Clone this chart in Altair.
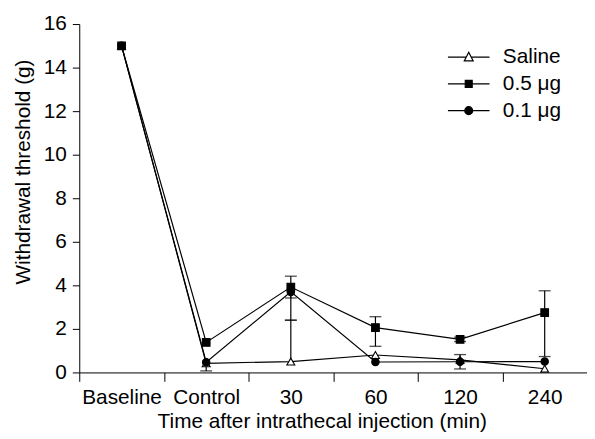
import altair as alt
import pandas as pd

categories = ["Baseline", "Control", "30", "60", "120", "240"]
series = ["Saline", "0.5 μg", "0.1 μg"]

saline = [15.0, 0.42, 0.5, 0.8, 0.58, 0.17]
dose_05 = [15.0, 1.38, 3.92, 2.06, 1.52, 2.75]
dose_01 = [15.0, 0.47, 3.7, 0.48, 0.49, 0.5]

saline_err_up = [0, 0, 1.9, 0, 0, 0]
saline_err_down = [0, 0, 0, 0, 0, 0]
dose_05_err_up = [0, 0, 0.5, 0.5, 0.1, 1.0]
dose_05_err_down = [0, 0, 0.5, 0.86, 0.1, 2.02]
dose_01_err_up = [0, 0, 0, 0, 0.33, 0]
dose_01_err_down = [0, 0.4, 1.3, 0, 0.33, 0]

FONT = "Liberation Sans"
FS = 21

# draw order: saline, 0.1, 0.5 (0.5 on top)
groups = [
    ("Saline", saline, saline_err_up, saline_err_down),
    ("0.1 μg", dose_01, dose_01_err_up, dose_01_err_down),
    ("0.5 μg", dose_05, dose_05_err_up, dose_05_err_down),
]

rows, err_rows, cap_rows = [], [], []
for name, vals, up, down in groups:
    for c, v, u, d in zip(categories, vals, up, down):
        rows.append({"time": c, "value": v, "series": name})
        if u > 0 or d > 0:
            err_rows.append({"time": c, "lo": v - d, "hi": v + u, "series": name})
        if u > 0:
            cap_rows.append({"time": c, "value": v + u, "series": name})
        if d > 0:
            cap_rows.append({"time": c, "value": v - d, "series": name})

df = pd.DataFrame(rows)
err_df = pd.DataFrame(err_rows)
cap_df = pd.DataFrame(cap_rows)

x_scale = alt.Scale(type="band", domain=categories, paddingInner=0, paddingOuter=0)
x_axis = alt.Axis(
    title="Time after intrathecal injection (min)",
    tickBand="extent", labelAngle=0, tickSize=9, labelPadding=5,
    titleX=245, titleY=39, titleAlign="center", titleBaseline="top",
)
y_scale = alt.Scale(domain=[0, 16], nice=False)
y_axis = alt.Axis(
    title="Withdrawal threshold (g)", values=list(range(0, 17, 2)),
    tickSize=7, labelPadding=6, grid=False,
    titleX=-46, titleY=149, titleAngle=-90, titleAlign="center", titleBaseline="bottom",
)

X = alt.X("time:N", scale=x_scale, axis=x_axis)
Y = alt.Y("value:Q", scale=y_scale, axis=y_axis)

lines = alt.Chart(df).mark_line(color="black", strokeWidth=1.2).encode(
    x=X, y=Y, detail="series:N"
)
rules = alt.Chart(err_df).mark_rule(color="black", strokeWidth=1.2).encode(
    x=alt.X("time:N", scale=x_scale, axis=x_axis),
    y=alt.Y("lo:Q", scale=y_scale, axis=y_axis),
    y2="hi:Q",
)
caps = alt.Chart(cap_df).mark_tick(color="black", thickness=1.3, size=12).encode(
    x=X, y=Y
)
points = alt.Chart(df).mark_point(filled=True, stroke="black", strokeWidth=1.1, opacity=1).encode(
    x=X, y=Y,
    shape=alt.Shape("series:N", scale=alt.Scale(domain=series, range=["triangle-up", "square", "circle"]), legend=None),
    fill=alt.Fill("series:N", scale=alt.Scale(domain=series, range=["white", "black", "black"]), legend=None),
    size=alt.Size("series:N", scale=alt.Scale(domain=series, range=[64, 56, 70]), legend=None),
)

legend_paths = [
    "M-4.2,0L-0.52,0M0.52,0L4.2,0M0,-1.0L0.9,0.75L-0.9,0.75Z",
    "M-4.2,0L4.2,0M-0.7,-0.7L0.7,-0.7L0.7,0.7L-0.7,0.7Z",
    "M-4.2,0L4.2,0M0.8,0A0.8,0.8 0 1,1 -0.8,0A0.8,0.8 0 1,1 0.8,0Z",
]
leg = alt.Legend(
    title=None, orient="none", legendX=383, legendY=23, padding=0,
    labelFontSize=FS, labelFont=FONT, labelColor="black", labelOffset=24,
    symbolSize=100, rowPadding=5, symbolStrokeColor="black", symbolStrokeWidth=1.2,
)
legend_layer = alt.Chart(df).transform_filter("false").mark_point(
    filled=True, strokeWidth=1.2, opacity=1
).encode(
    x=X, y=Y,
    shape=alt.Shape("series:N", scale=alt.Scale(domain=series, range=legend_paths), legend=leg),
    fill=alt.Fill("series:N", scale=alt.Scale(domain=series, range=["white", "black", "black"]), legend=leg),
    stroke=alt.Stroke("series:N", scale=alt.Scale(domain=series, range=["black", "black", "black"]), legend=leg),
)

chart = alt.layer(lines, rules, caps, points, legend_layer).resolve_scale(
    shape="independent", fill="independent", stroke="independent"
).properties(
    width=513, height=352,
    autosize=alt.AutoSizeParams(type="none"),
    padding={"left": 72, "top": 14, "right": 0, "bottom": 62},
).configure_view(stroke=None).configure_axis(
    domainColor="black", domainWidth=1, tickColor="black", tickWidth=1,
    labelColor="black", titleColor="black", labelFont=FONT, titleFont=FONT,
    labelFontSize=FS, titleFontSize=FS, titleFontWeight="normal", grid=False,
)

chart.save("out.html", embed_options={"renderer": "svg", "actions": False})
